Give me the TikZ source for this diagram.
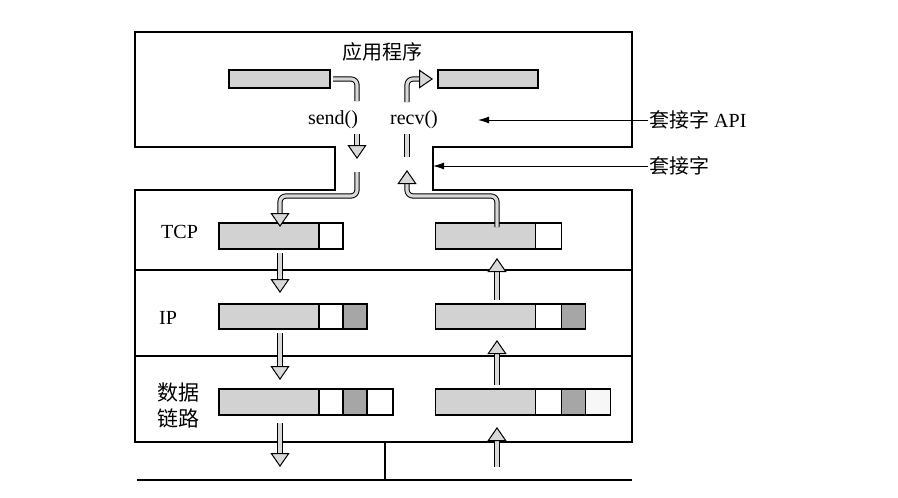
\documentclass[tikz,border=0pt]{standalone}
\usepackage{fontspec}
\setmainfont{Liberation Serif}
\newfontfamily\cjk{Noto Sans CJK SC}
\usepackage{tikz}
\usetikzlibrary{arrows.meta, positioning, calc}

\begin{document}
\begin{tikzpicture}[
    x=1pt, y=-1pt,
    >=Stealth,
    lbl/.style={font=\fontsize{20}{23}\selectfont, inner sep=1pt},
    frame/.style={draw, line width=1.7pt},
    buf/.style={rectangle, draw, line width=1.4pt, fill=gray!35, inner sep=0pt, outer sep=0pt,
        minimum width=100pt, minimum height=26pt},
    hdr/.style={buf, fill=white, minimum width=24pt},
    ctl/.style={buf, fill=gray!70, minimum width=24pt},
    tlr/.style={buf, fill=gray!6, minimum width=25pt},
    duct/.style={draw=black, line width=1pt, double=gray!30, double distance=3.2pt, rounded corners=6pt},
    ductArr/.style={duct, -{Triangle[open, length=14pt, width=19pt, fill=gray!30]}},
    ptr/.style={-{Latex[length=11pt, width=7pt]}, line width=0.9pt},
]
\useasboundingbox (0,0) rectangle (898,498);

% outline of the host
\draw[frame] (135,32) -- (632,32) -- (632,147) -- (433,147) -- (433,190) -- (632,190)
    -- (632,442) -- (135,442) -- (135,190) -- (335,190) -- (335,147) -- (135,147) -- cycle;
\draw[frame] (135,270) -- (632,270);
\draw[frame] (135,356) -- (632,356);

% network
\coordinate (netW) at (137,480);
\coordinate (netE) at (632,480);
\coordinate (tap) at (385,442);
\draw[line width=2.2pt] (netW) -- (netE);
\draw[frame] (tap) -- (tap |- netW);

\coordinate (colL) at (280,0);
\coordinate (colR) at (497,0);

% application
\node[lbl] (appTitle) at (382,52) {\cjk 应用程序};
\node[buf, minimum width=101pt, minimum height=18pt] (appL) at (279.5,79) {};
\node[buf, minimum width=100pt, minimum height=18pt] (appR) at (488,79) {};
\node[lbl] (sendLbl) at (333,120) {send()};
\node[lbl] (recvLbl) at (414,120) {recv()};

% TCP
\node[lbl, anchor=west] (tcpLbl) at (160,232) {TCP};
\node[buf] (tcpL) at (269,236) {};
\node[hdr, right=0pt of tcpL] (tcpLh) {};
\node[buf] (tcpR) at (485.5,236) {};
\node[hdr, minimum width=26pt, right=0pt of tcpR] (tcpRh) {};

% IP
\node[lbl, anchor=west] (ipLbl) at (158,318) {IP};
\node[buf, minimum height=25pt] (ipL) at (269,316.5) {};
\node[hdr, minimum height=25pt, right=0pt of ipL] (ipLh) {};
\node[ctl, minimum height=25pt, right=0pt of ipLh] (ipLc) {};
\node[buf, minimum height=25pt] (ipR) at (485.5,316.5) {};
\node[hdr, minimum width=26pt, minimum height=25pt, right=0pt of ipR] (ipRh) {};
\node[ctl, minimum height=25pt, right=0pt of ipRh] (ipRc) {};

% data link
\node[anchor=west, align=left, inner sep=1pt, font=\fontsize{21}{26}\selectfont\cjk] (dlLbl) at (156,405) {数据\\链路};
\node[buf] (dlL) at (269,402) {};
\node[hdr, right=0pt of dlL] (dlLh) {};
\node[ctl, right=0pt of dlLh] (dlLc) {};
\node[hdr, minimum width=26pt, right=0pt of dlLc] (dlLt) {};
\node[buf] (dlR) at (485.5,402) {};
\node[hdr, minimum width=26pt, right=0pt of dlR] (dlRh) {};
\node[ctl, right=0pt of dlRh] (dlRc) {};
\node[tlr, right=0pt of dlRc] (dlRt) {};

% socket labels
\node[lbl, anchor=west] (apiLbl) at (648,120) {{\cjk 套接字} API};
\node[lbl, anchor=west] (sockLbl) at (648,166) {\cjk 套接字};
\coordinate (apiTip) at (478,120);
\coordinate (neckR) at (433,166);
\draw[ptr] (apiLbl.west) -- (apiTip);
\draw[ptr] (sockLbl.west) -- (neckR);

% send path
\coordinate (sendA) at (357,101);
\coordinate (sendB) at (357,134);
\coordinate (sendC) at (357,159);
\coordinate (sendD) at (357,172);
\coordinate (sendE) at (280,196);
\draw[duct] ([xshift=3pt]appL.east) -| (sendA);
\draw[ductArr] (sendB) -- (sendC);
\draw[ductArr] (sendD) |- (sendE) -- ([yshift=-4pt]tcpL.north -| colL);
\draw[ductArr, shorten <=4pt, shorten >=11pt] (tcpL.south -| colL) -- (ipL.north -| colL);
\draw[ductArr, shorten <=4pt, shorten >=9pt] (ipL.south -| colL) -- (dlL.north -| colL);
\draw[ductArr, shorten <=8pt, shorten >=13pt] (dlL.south -| colL) -- (colL |- netW);

% receive path
\coordinate (recvA) at (407,102);
\coordinate (recvB) at (407,134);
\coordinate (recvC) at (407,157);
\coordinate (recvD) at (407,170);
\coordinate (recvE) at (407,196);
\draw[ductArr, shorten <=13pt, shorten >=12pt] (colR |- netW) -- (dlR.south -| colR);
\draw[ductArr, shorten <=4pt, shorten >=11pt] (dlR.north -| colR) -- (ipR.south -| colR);
\draw[ductArr, shorten <=4pt, shorten >=9pt] (ipR.north -| colR) -- (tcpR.south -| colR);
\draw[ductArr] ([yshift=-4pt]tcpR.north -| colR) |- (recvE) -- (recvD);
\draw[duct] (recvC) -- (recvB);
\draw[ductArr, shorten >=5pt] (recvA) |- (appR.west);
\end{tikzpicture}
\end{document}
